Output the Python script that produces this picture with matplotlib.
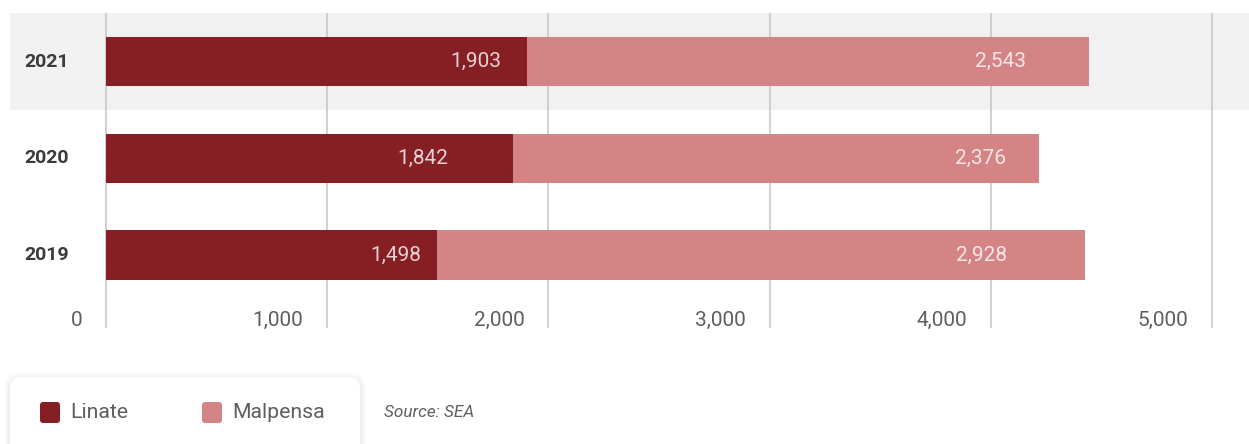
import matplotlib.pyplot as plt
from matplotlib.patches import FancyBboxPatch

# data (bottom to top)
years = ['2019', '2020', '2021']
linate = [1498, 1842, 1903]
malpensa = [2928, 2376, 2543]
ticks = [0, 1000, 2000, 3000, 4000, 5000]

# where the value labels sit (centre, data units)
linate_lbl = [1309, 1434, 1670]
malpensa_lbl = [3960, 3955, 4045]

c_lin = '#861f24'
c_mal = '#d58485'
band = '#f0f1f0'
grid = '#c4c4c4'
txt = '#5e5e5e'

plt.rcParams['font.family'] = ['Roboto', 'DejaVu Sans']

W, H = 1249, 444
fig = plt.figure(figsize=(W / 100, H / 100), dpi=100)

# plot axes: x 0 at px 106, 5000 at px 1212
ppu = (1212 - 106) / 5000
x0 = (10 - 106) / ppu
x1 = (W - 106) / ppu
ax = fig.add_axes([10 / W, (H - 328) / H, (W - 10) / W, (328 - 13) / H])
ax.set_xlim(x0, x1)
ax.set_ylim(-0.755, 2.503)
ax.axis('off')

# highlighted row
ax.axhspan(1.5, 2.6, color=band, zorder=0, lw=0)
for t in ticks:
    ax.axvline(t, color=grid, lw=1.1, zorder=1)

ypos = range(len(years))
ax.barh(ypos, linate, height=0.51, color=c_lin, zorder=2)
ax.barh(ypos, malpensa, left=linate, height=0.51, color=c_mal, zorder=2)

for i, y in enumerate(ypos):
    ax.text(-267, y, years[i], ha='center', va='center', fontsize=14,
            fontweight='bold', color='#3a3a3a')
    ax.text(linate_lbl[i], y, f'{linate[i]:,}', ha='center', va='center',
            fontsize=15, fontweight='normal', color='white', alpha=0.8, zorder=3)
    ax.text(malpensa_lbl[i], y, f'{malpensa[i]:,}', ha='center', va='center',
            fontsize=15, fontweight='normal', color='white', alpha=0.8, zorder=3)

for t in ticks:
    ax.text(t - 24 / ppu, -0.68, f'{t:,}', ha='right', va='center',
            fontsize=15, fontweight='normal', color=txt)

# legend box, drawn in pixel space
lay = fig.add_axes([0, 0, 1, 1], zorder=5)
lay.set_xlim(0, W)
lay.set_ylim(H, 0)
lay.axis('off')
lay.patch.set_alpha(0)

for k in range(6, 0, -1):
    lay.add_patch(FancyBboxPatch((10 - k, 377 - k + 2), 350 + 2 * k, 90 + 2 * k,
                                 boxstyle='round,pad=0,rounding_size=14',
                                 fc='black', ec='none', alpha=0.012))
lay.add_patch(FancyBboxPatch((10, 377), 350, 90,
                             boxstyle='round,pad=0,rounding_size=12',
                             fc='white', ec='none'))

for xs, lab, col in [(40, 'Linate', c_lin), (202, 'Malpensa', c_mal)]:
    lay.add_patch(FancyBboxPatch((xs, 402), 20, 21,
                                 boxstyle='round,pad=0,rounding_size=3',
                                 fc=col, ec='none'))
    lay.text(xs + 30, 412, lab, ha='left', va='center', fontsize=15.3,
             fontweight='normal', color=txt)

lay.text(384, 412, 'Source: SEA', ha='left', va='center', fontsize=12.3,
         style='italic', fontweight='normal', color=txt)

fig.savefig('out.png', dpi=100)
